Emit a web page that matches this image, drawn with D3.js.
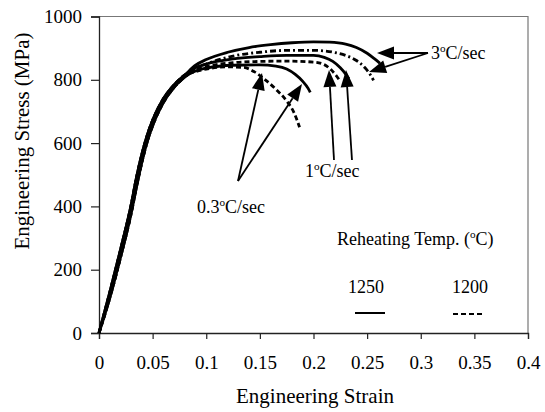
<!DOCTYPE html>
<html><head><meta charset="utf-8">
<script src="https://cdn.jsdelivr.net/npm/d3@7"></script>
<style>body{margin:0;background:#fff}svg{display:block}</style>
</head><body><svg id="c" width="545" height="412"></svg>
<script>
// ---- data: [strain, stress MPa] ----
const xTicks = [0, 0.05, 0.1, 0.15, 0.2, 0.25, 0.3, 0.35, 0.4];
const yTicks = [0, 200, 400, 600, 800, 1000];
const elasticA = [[0,0],[0.01,128],[0.02,262],[0.03,405],[0.035,492],[0.04,565],[0.045,625],[0.05,672],[0.06,740],[0.07,784],[0.08,815]];
const elasticB = [[0,0],[0.01,110],[0.02,238],[0.03,378],[0.035,462],[0.04,540],[0.045,605],[0.05,655],[0.06,728],[0.07,776],[0.08,809]];
const rate3_1250 = [[0.09,846],[0.1,864],[0.12,887],[0.14,902],[0.16,911],[0.18,917],[0.2,920],[0.215,919],[0.23,913],[0.24,902],[0.25,884],[0.257,866],[0.262,852]];
const rate3_1200 = [[0.09,836],[0.1,850],[0.125,875],[0.15,887],[0.175,893],[0.2,893],[0.22,886],[0.23,877],[0.24,861],[0.248,838],[0.253,816],[0.256,798]];
const rate1_1250 = [[0.09,838],[0.1,850],[0.125,866],[0.15,873],[0.175,877],[0.2,877],[0.21,871],[0.218,858],[0.225,838],[0.23,818],[0.233,803]];
const rate1_1200 = [[0.09,831],[0.1,842],[0.125,854],[0.15,858],[0.175,859],[0.2,856],[0.21,848],[0.216,833],[0.221,814],[0.224,800]];
const rate03_1250 = [[0.09,828],[0.1,837],[0.125,846],[0.15,847],[0.165,843],[0.175,834],[0.183,817],[0.19,795],[0.195,773],[0.197,760]];
const rate03_1200 = [[0.09,826],[0.1,834],[0.12,841],[0.135,839],[0.145,825],[0.155,800],[0.165,770],[0.175,733],[0.182,695],[0.187,650]];
const legendTemps = ["1250", "1200"];

const FONT = "'Liberation Serif', 'Times New Roman', 'DejaVu Serif', serif";
const svg = d3.select("#c");
const x = d3.scaleLinear().domain([0, 0.4]).range([99, 528]);
const y = d3.scaleLinear().domain([0, 1000]).range([333, 16.5]);

// frame (top/right)
svg.append("path").attr("d",`M${x(0)},${y(1000)}H${x(0.4)}V${y(0)}`).attr("fill","none").attr("stroke","#777").attr("stroke-width",1.2);

const xa = svg.append("g").attr("transform",`translate(0,${y(0)})`)
  .call(d3.axisBottom(x).tickValues(xTicks).tickFormat(d=>String(d)).tickSize(6).tickPadding(17));
const ya = svg.append("g").attr("transform",`translate(${x(0)},0)`)
  .call(d3.axisLeft(y).tickValues(yTicks).tickFormat(d=>String(d)).tickSize(8).tickPadding(9));
[xa, ya].forEach(g=>{
  g.attr("font-family", null);
  g.select(".domain").attr("stroke","#222").attr("stroke-width",1.3);
  g.selectAll(".tick line").attr("stroke","#222").attr("stroke-width",1.2);
  g.selectAll("text").attr("font-size",19).style("font-family",FONT).attr("fill","#000");
});

function txt(xp,yp,size,anchor){
  return svg.append("text").attr("x",xp).attr("y",yp).attr("font-size",size)
    .attr("text-anchor",anchor||"start").style("font-family",FONT).attr("fill","#000");
}
txt(315,403,21,"middle").text("Engineering Strain");
svg.append("text").attr("transform","translate(29,141) rotate(-90)").attr("text-anchor","middle")
  .attr("font-size",21).style("font-family",FONT).text("Engineering Stress (MPa)");

const line = d3.line().x(d=>x(d[0])).y(d=>y(d[1])).curve(d3.curveMonotoneX);
const series = [
  {e: elasticA, d: rate3_1250, dash: null},
  {e: elasticB, d: rate3_1200, dash: "6,3,2,3"},
  {e: elasticA, d: rate1_1250, dash: null},
  {e: elasticB, d: rate1_1200, dash: "5,3"},
  {e: elasticB, d: rate03_1250, dash: null},
  {e: elasticA, d: rate03_1200, dash: "5,3"}
];
series.forEach(s=>{
  svg.append("path").attr("d", line(s.e.concat(s.d))).attr("fill","none")
    .attr("stroke","#000").attr("stroke-width",2.8).attr("stroke-linejoin","round")
    .attr("stroke-dasharray", s.dash);
});

// arrows
function arrow(x0,y0,x1,y1){
  const a = Math.atan2(y1-y0,x1-x0), L=17, W=6.5;
  const bx = x1 - L*Math.cos(a), by = y1 - L*Math.sin(a);
  svg.append("line").attr("x1",x0).attr("y1",y0).attr("x2",bx).attr("y2",by).attr("stroke","#000").attr("stroke-width",1.8);
  const px = -Math.sin(a)*W, py = Math.cos(a)*W;
  svg.append("path").attr("d",`M${x1},${y1}L${bx+px},${by+py}L${bx-px},${by-py}Z`).attr("fill","#000");
}
arrow(238,181,262,73);
arrow(238,181,302,84);
arrow(334,160,329,70);
arrow(352,160,346,70);
arrow(428,53,377,53);
arrow(428,53,369,72);

function degText(xp,yp,pre,post,size){
  const t = txt(xp,yp,size);
  t.append("tspan").text(pre);
  t.append("tspan").attr("font-size",size*0.62).attr("dy",-size*0.38).text("o");
  t.append("tspan").attr("dy",size*0.38).text(post);
  return t;
}
degText(197,213,"0.3","C/sec",18);
degText(305,177,"1","C/sec",18);
degText(431,59,"3","C/sec",18);
degText(337,245,"Reheating Temp. (","C)",18);

txt(366,293,18,"middle").text(legendTemps[0]);
txt(470,293,18,"middle").text(legendTemps[1]);
svg.append("line").attr("x1",355).attr("x2",385).attr("y1",313).attr("y2",313).attr("stroke","#000").attr("stroke-width",2);
svg.append("line").attr("x1",453).attr("x2",482).attr("y1",314).attr("y2",314).attr("stroke","#000").attr("stroke-width",2).attr("stroke-dasharray","5,3");
</script></body></html>
